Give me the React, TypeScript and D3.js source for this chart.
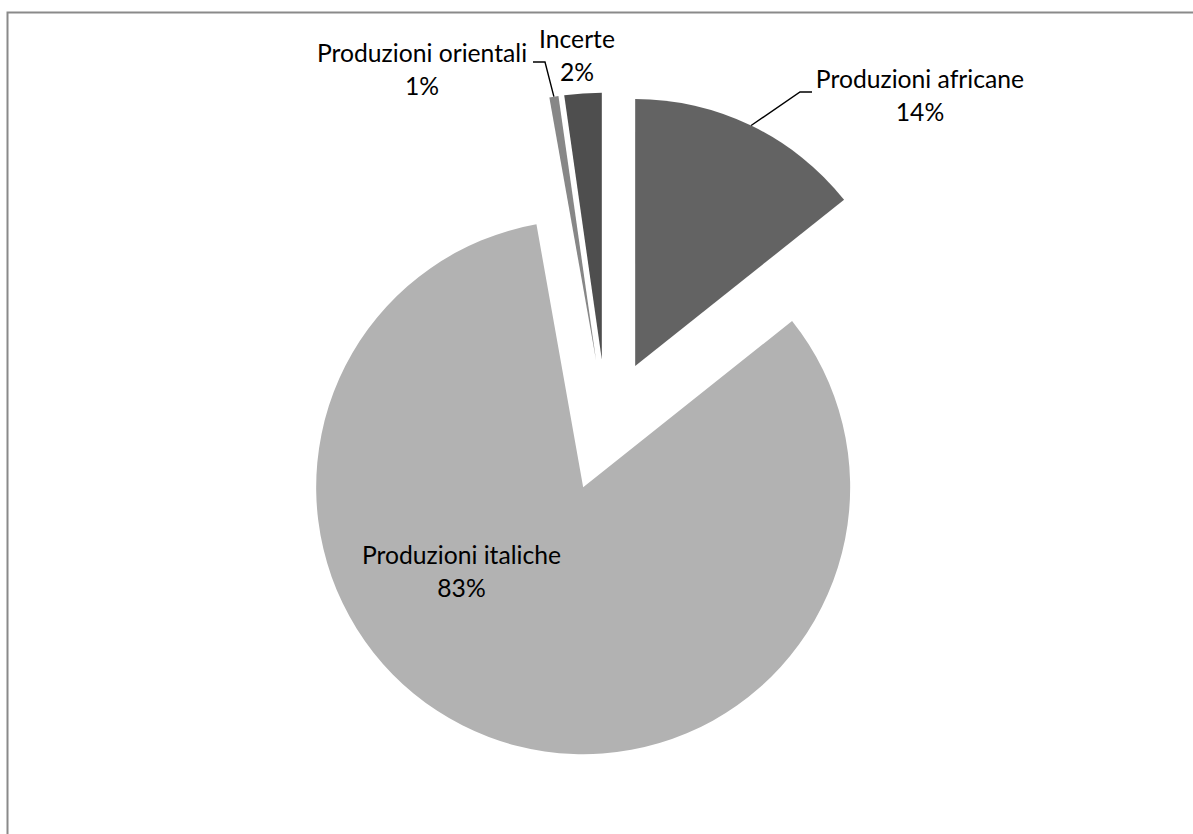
import React from "react";
import * as d3 from "d3";

const categories = ["Produzioni africane", "Produzioni italiche", "Produzioni orientali", "Incerte"];
const values = [14.3, 82.9, 0.55, 2.25];
const percentLabels = ["14%", "83%", "1%", "2%"];
const sliceColors = ["#636363", "#b2b2b2", "#878787", "#4e4e4e"];

// layout (manual label placement, as in the source chart)
const W = 1193;
const H = 834;
const CX = 606.5;
const CY = 425.5;
const R = 267;
const EXPLODE = 66;
const FONT = "Lato, 'Noto Sans', sans-serif";
const FONT_SIZE = 24.7;
const LINE_GAP = 32.5;

const labelLayout = [
  { x: 920, y: 88, elbow: [800, 92], end: [812, 92] },
  { x: 461.5, y: 564, elbow: null, end: null },
  { x: 422, y: 62, elbow: [545, 62], end: [533, 62] },
  { x: 577, y: 48, elbow: null, end: null },
];

export default function App() {
  const total = d3.sum(values);
  const pie = d3
    .pie<number>()
    .sort(null)
    .value((d) => d)
    .startAngle(0)
    .endAngle(2 * Math.PI);
  const arcs = pie(values);
  const arcGen = d3.arc<d3.PieArcDatum<number>>().innerRadius(0).outerRadius(R);

  return (
    <svg
      width={W}
      height={H}
      style={{ position: "absolute", left: 0, top: 0, background: "#fff" }}
    >
      <rect x={0} y={0} width={W} height={H} fill="#fff" />
      <rect
        x={7.5}
        y={12.5}
        width={W + 50}
        height={H + 50}
        fill="none"
        stroke="#8a8a8a"
        strokeWidth={2}
      />
      {arcs.map((a, i) => {
        const mid = (a.startAngle + a.endAngle) / 2;
        const dx = EXPLODE * Math.sin(mid);
        const dy = -EXPLODE * Math.cos(mid);
        return (
          <path
            key={"s" + i}
            d={arcGen(a) || ""}
            transform={`translate(${CX + dx},${CY + dy})`}
            fill={sliceColors[i]}
          />
        );
      })}
      {arcs.map((a, i) => {
        const L = labelLayout[i];
        if (!L.elbow || !L.end) return null;
        const mid = (a.startAngle + a.endAngle) / 2;
        const rr = EXPLODE + R;
        const px = CX + rr * Math.sin(mid);
        const py = CY - rr * Math.cos(mid);
        return (
          <polyline
            key={"l" + i}
            points={`${px},${py} ${L.elbow[0]},${L.elbow[1]} ${L.end[0]},${L.end[1]}`}
            fill="none"
            stroke="#000"
            strokeWidth={1.4}
          />
        );
      })}
      {categories.map((c, i) => {
        const L = labelLayout[i];
        const pct = percentLabels[i] || `${Math.round((values[i] / total) * 100)}%`;
        return (
          <text
            key={"t" + i}
            x={L.x}
            y={L.y}
            textAnchor="middle"
            fontFamily={FONT}
            fontSize={FONT_SIZE}
            fill="#000"
          >
            <tspan x={L.x} y={L.y}>{c}</tspan>
            <tspan x={L.x} y={L.y + LINE_GAP}>{pct}</tspan>
          </text>
        );
      })}
    </svg>
  );
}
